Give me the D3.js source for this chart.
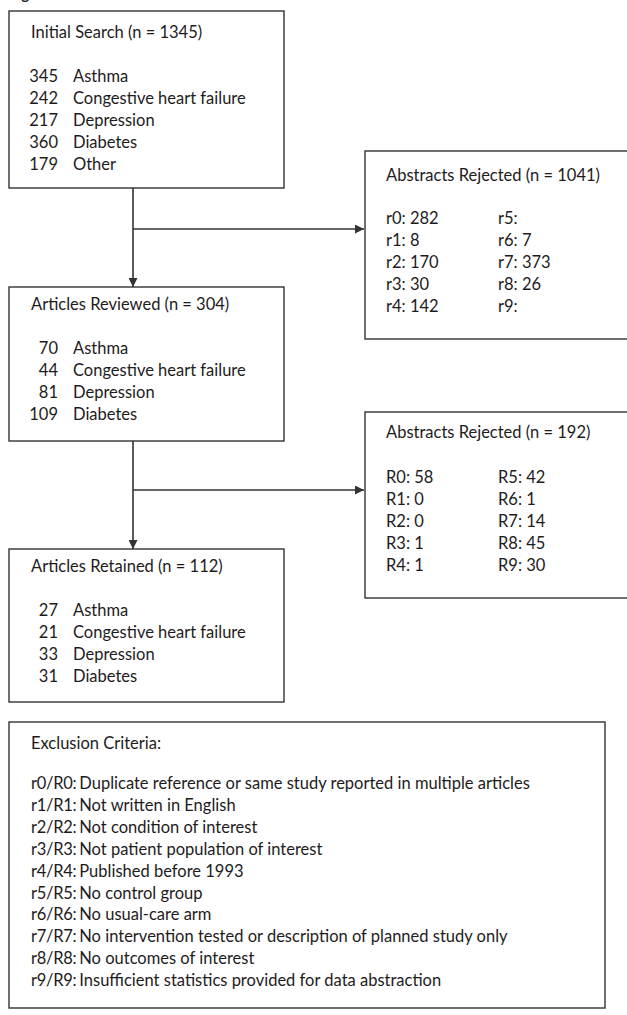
<!DOCTYPE html>
<html>
  <head>
    <meta charset="utf-8">
    <title>Flow</title>
    <script src="https://d3js.org/d3.v7.min.js"></script>
    <style>
      body { margin: 0; background: #fff; }
      text { font-family: Lato, "Open Sans", sans-serif; fill: #1e1b1c; }
    </style>
  </head>
  <body>
    <script>
    var w = 627;
    var h = 1015;

    // stage titles and counts
    var searchTitle = "Initial Search (n = 1345)";
    var searchCats = ["Asthma", "Congestive heart failure", "Depression", "Diabetes", "Other"];
    var searchVals = [345, 242, 217, 360, 179];

    var reviewTitle = "Articles Reviewed (n = 304)";
    var reviewCats = ["Asthma", "Congestive heart failure", "Depression", "Diabetes"];
    var reviewVals = [70, 44, 81, 109];

    var retainTitle = "Articles Retained (n = 112)";
    var retainCats = ["Asthma", "Congestive heart failure", "Depression", "Diabetes"];
    var retainVals = [27, 21, 33, 31];

    // rejections by reason
    var reject1Title = "Abstracts Rejected (n = 1041)";
    var reject1Codes = ["r0", "r1", "r2", "r3", "r4", "r5", "r6", "r7", "r8", "r9"];
    var reject1Vals = [282, 8, 170, 30, 142, null, 7, 373, 26, null];

    var reject2Title = "Abstracts Rejected (n = 192)";
    var reject2Codes = ["R0", "R1", "R2", "R3", "R4", "R5", "R6", "R7", "R8", "R9"];
    var reject2Vals = [58, 0, 0, 1, 1, 42, 1, 14, 45, 30];

    var critTitle = "Exclusion Criteria:";
    var critCodes = ["r0/R0", "r1/R1", "r2/R2", "r3/R3", "r4/R4", "r5/R5", "r6/R6", "r7/R7", "r8/R8", "r9/R9"];
    var critText = [
      "Duplicate reference or same study reported in multiple articles",
      "Not written in English",
      "Not condition of interest",
      "Not patient population of interest",
      "Published before 1993",
      "No control group",
      "No usual-care arm",
      "No intervention tested or description of planned study only",
      "No outcomes of interest",
      "Insufficient statistics provided for data abstraction"
    ];

    var lineH = 21.9;
    var fs = "16.5px";
    var ink = "#333";

    var svg = d3.select("body")
      .append("svg")
      .attr("width", w)
      .attr("height", h);

    svg.append("defs").append("marker")
      .attr("id", "arr")
      .attr("viewBox", "0 0 10 10")
      .attr("refX", 10).attr("refY", 5)
      .attr("markerWidth", 11).attr("markerHeight", 9)
      .attr("markerUnits", "userSpaceOnUse")
      .attr("orient", "auto")
      .append("path")
      .attr("d", "M0,0L10,5L0,10Z")
      .attr("fill", ink);

    // caption cut off by the top edge, only a descender shows
    svg.append("text")
      .attr("x", 9).attr("y", -1)
      .attr("font-size", "15px")
      .attr("font-weight", "bold")
      .text("Figure 1");

    function box(x0, y0, x1, y1){
      svg.append("rect")
        .attr("x", x0).attr("y", y0)
        .attr("width", x1 - x0).attr("height", y1 - y0)
        .attr("fill", "none")
        .attr("stroke", ink)
        .attr("stroke-width", 1.4);
    }

    function rowScale(y0){
      return d3.scaleLinear().domain([0, 1]).range([y0, y0 + lineH]);
    }

    function stageBox(y0, y1, titleY, rowY, title, cats, vals){
      box(9, y0, 284, y1);
      var g = svg.append("g");
      g.append("text")
        .attr("x", 31).attr("y", titleY)
        .attr("font-size", fs)
        .text(title);
      var y = rowScale(rowY);
      g.selectAll("text.num")
        .data(vals)
        .enter()
        .append("text")
        .attr("class", "num")
        .attr("x", 58)
        .attr("y", function(d, i){ return y(i) })
        .attr("text-anchor", "end")
        .attr("font-size", fs)
        .text(function(d){ return d });
      g.selectAll("text.cat")
        .data(cats)
        .enter()
        .append("text")
        .attr("class", "cat")
        .attr("x", 73)
        .attr("y", function(d, i){ return y(i) })
        .attr("font-size", fs)
        .text(function(d){ return d });
    }

    function rejectBox(y0, y1, titleY, rowY, title, codes, vals){
      box(365, y0, 640, y1);
      var g = svg.append("g");
      g.append("text")
        .attr("x", 386).attr("y", titleY)
        .attr("font-size", fs)
        .text(title);
      var y = rowScale(rowY);
      g.selectAll("text.code")
        .data(codes)
        .enter()
        .append("text")
        .attr("class", "code")
        .attr("x", function(d, i){ return i < 5 ? 386 : 498 })
        .attr("y", function(d, i){ return y(i % 5) })
        .attr("font-size", fs)
        .text(function(d, i){ return d + ":" + (vals[i] == null ? "" : " " + vals[i]) });
    }

    function connector(yTop, yBot, yBranch){
      svg.append("line")
        .attr("x1", 133).attr("y1", yTop)
        .attr("x2", 133).attr("y2", yBot)
        .attr("stroke", ink).attr("stroke-width", 1.6)
        .attr("marker-end", "url(#arr)");
      svg.append("line")
        .attr("x1", 133).attr("y1", yBranch)
        .attr("x2", 364).attr("y2", yBranch)
        .attr("stroke", ink).attr("stroke-width", 1.6)
        .attr("marker-end", "url(#arr)");
    }

    stageBox(11, 188, 38, 82, searchTitle, searchCats, searchVals);
    stageBox(287, 441, 310, 354, reviewTitle, reviewCats, reviewVals);
    stageBox(549, 702, 572, 616, retainTitle, retainCats, retainVals);

    rejectBox(151, 339, 181, 224, reject1Title, reject1Codes, reject1Vals);
    rejectBox(412, 598, 438, 483, reject2Title, reject2Codes, reject2Vals);

    connector(188, 287, 229);
    connector(441, 549, 490);

    // exclusion criteria legend
    box(9, 722, 605, 1008);
    svg.append("text")
      .attr("x", 31).attr("y", 749)
      .attr("font-size", fs)
      .text(critTitle);
    var cy = rowScale(789);
    var crit = svg.selectAll("text.crit")
      .data(critCodes)
      .enter()
      .append("text")
      .attr("class", "crit")
      .attr("x", 31)
      .attr("y", function(d, i){ return cy(i) })
      .attr("font-size", fs);
    crit.append("tspan")
      .attr("letter-spacing", "-0.3")
      .text(function(d){ return d + ":" });
    crit.append("tspan")
      .attr("dx", 3)
      .text(function(d, i){ return critText[i] });
    </script>
  </body>
</html>
